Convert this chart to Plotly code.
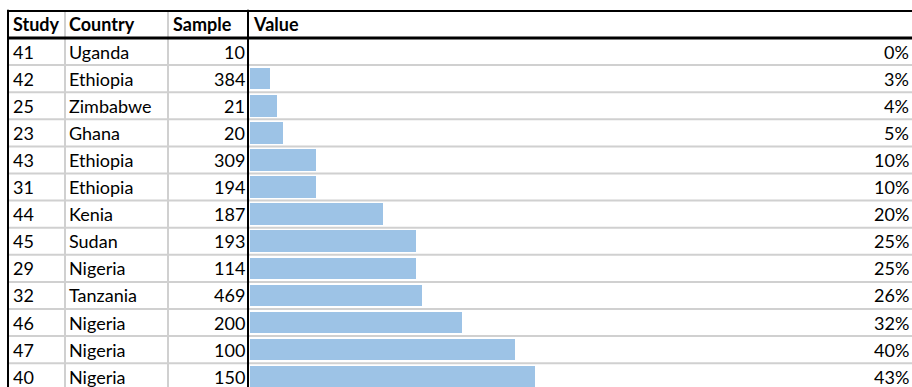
import plotly.graph_objects as go

studies = ["41", "42", "25", "23", "43", "31", "44", "45", "29", "32", "46", "47", "40"]
countries = ["Uganda", "Ethiopia", "Zimbabwe", "Ghana", "Ethiopia", "Ethiopia", "Kenia",
             "Sudan", "Nigeria", "Tanzania", "Nigeria", "Nigeria", "Nigeria"]
samples = [10, 384, 21, 20, 309, 194, 187, 193, 114, 469, 200, 100, 150]
values = [0, 3, 4, 5, 10, 10, 20, 25, 25, 26, 32, 40, 43]
headers = ["Study", "Country", "Sample", "Value"]

W, H = 912, 387
FONT = "Lato"
FS = 18
BAR = "#9DC3E6"
GRID = "#D0D0D0"

rows = list(range(len(values)))

fig = go.Figure()
fig.add_trace(go.Bar(
    x=values, y=rows, orientation="h", base=0,
    marker=dict(color=BAR, line=dict(width=0)),
    width=0.8, hoverinfo="skip", showlegend=False,
))

def px(p):
    return p / W

ann = []
# header
hdr_x = [(12, "left"), (68, "left"), (172, "left"), (252, "left")]
for (xp, anc), h in zip(hdr_x, headers):
    ann.append(dict(x=px(xp), y=-1, xref="paper", yref="y", text=f"<b>{h}</b>",
                    xanchor=anc, yanchor="middle", showarrow=False,
                    font=dict(family=FONT, size=FS, color="black"), borderpad=0))
for i in rows:
    cells = [(studies[i], 12, "left"), (countries[i], 68, "left"),
             (str(samples[i]), 246, "right"), (f"{values[i]}%", 910, "right")]
    for t, xp, anc in cells:
        ann.append(dict(x=px(xp), y=i, xref="paper", yref="y", text=t,
                        xanchor=anc, yanchor="middle", showarrow=False,
                        font=dict(family=FONT, size=FS, color="black"), borderpad=0))

shapes = []
n = len(rows)
ybot = n + 1
# horizontal row lines (gray)
for k in range(n):
    shapes.append(dict(type="line", xref="paper", yref="y", x0=px(8), x1=1,
                       y0=k + 0.5, y1=k + 0.5, line=dict(color=GRID, width=2)))
# vertical gray column lines
for xp in (65, 168):
    shapes.append(dict(type="line", xref="paper", yref="y", x0=px(xp), x1=px(xp),
                       y0=-1.5, y1=ybot, line=dict(color=GRID, width=2)))
# black borders
shapes.append(dict(type="line", xref="paper", yref="y", x0=px(7), x1=1,
                   y0=-1.5, y1=-1.5, line=dict(color="black", width=2)))
shapes.append(dict(type="line", xref="paper", yref="y", x0=px(7), x1=1,
                   y0=-0.5, y1=-0.5, line=dict(color="black", width=3)))
shapes.append(dict(type="line", xref="paper", yref="y", x0=px(8), x1=px(8),
                   y0=-1.54, y1=ybot, line=dict(color="black", width=2)))
shapes.append(dict(type="line", xref="paper", yref="y", x0=px(248), x1=px(248),
                   y0=-1.54, y1=ybot, line=dict(color="black", width=2)))

pitch = 27.1
y_top = -0.5 - 38 / pitch
y_bottom = -0.5 + (H - 38) / pitch
scale = (535 - 250) / 43.0
x_lo = -250 / scale
x_hi = (W - 250) / scale

fig.update_layout(
    width=W, height=H, margin=dict(l=0, r=0, t=0, b=0),
    paper_bgcolor="white", plot_bgcolor="white",
    xaxis=dict(range=[x_lo, x_hi], visible=False, fixedrange=True),
    yaxis=dict(range=[y_bottom, y_top], visible=False, fixedrange=True),
    annotations=ann, shapes=shapes, bargap=0,
)
fig.write_html("out.html")
